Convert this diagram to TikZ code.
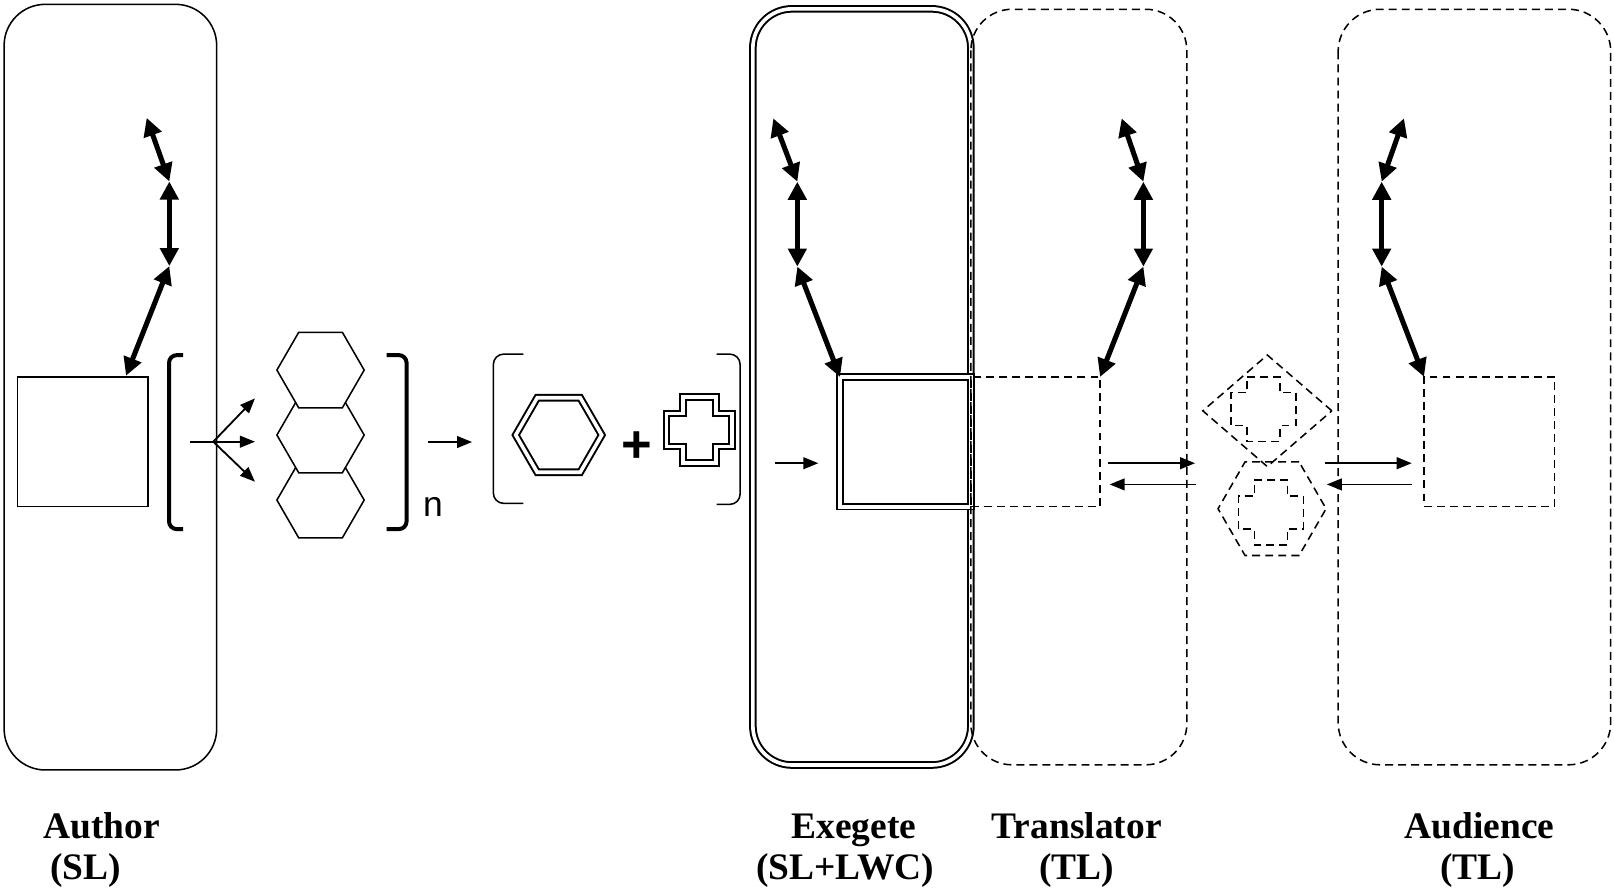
\documentclass[tikz,border=0pt]{standalone}
\usepackage{fontspec}
\setmainfont{Liberation Serif}
\newfontfamily\labelsans{Liberation Sans}
\usepackage{tikz}
\usetikzlibrary{positioning,shapes.geometric,arrows.meta}

% cross outline, half size #1, half arm width #2
\newcommand{\crosspath}[2]{(-#2,-#1) -- (#2,-#1) -- (#2,-#2) -- (#1,-#2) -- (#1,#2) -- (#2,#2) -- (#2,#1) -- (-#2,#1) -- (-#2,#2) -- (-#1,#2) -- (-#1,-#2) -- (-#2,-#2) -- cycle}

\tikzset{
  rolebox/.style={line width=0.85pt,rounded corners=0.8cm},
  dashline/.style={dash pattern=on 4.4pt off 2.8pt},
  dblline/.style={double,double distance=2pt,line width=1.1pt},
  unitbox/.style={draw,line width=0.85pt,minimum width=2.54cm,minimum height=2.52cm,inner sep=0pt,outer sep=0pt},
  hexa/.style={draw,line width=0.85pt,regular polygon,regular polygon sides=6,inner sep=0pt,outer sep=0pt},
  brackline/.style={line width=2.2pt,rounded corners=0.15cm},
  linkarrow/.style={line width=2.8pt,>={Triangle[length=10pt,width=10pt]},<->},
  flowarrow/.style={line width=1pt,>={Triangle[length=8.3pt,width=6.5pt]},->},
  roletext/.style={font=\fontsize{20.7pt}{24pt}\selectfont\bfseries,inner sep=0pt,anchor=base}
}

\begin{document}
\begin{tikzpicture}[x=0.02cm,y=-0.02cm]
  \useasboundingbox (0,0) rectangle (1568,867);
  % --- Author (SL) ---
  \draw[rolebox] (4,4.2) rectangle (210.5,748);
  \node[unitbox] (authsq) at (80.5,429) {};
  \coordinate (a1) at (142.5,114.5);
  \coordinate (a2) at (164.5,176.3);
  \coordinate (a3) at (164.5,258.5);
  \coordinate (a4) at (122.4,365);
  \draw[linkarrow] (a1) -- (a2);
  \draw[linkarrow] (a2) -- (a3);
  \draw[linkarrow] (a3) -- (a4);
  % --- repeated group [ ... ]n ---
  \draw[brackline] (178,345) -- (164.2,345) -- (164.2,514) -- (178,514);
  \coordinate (fanin) at (184.6,429.1);
  \coordinate (fansplit) at (207.2,429.1);
  \coordinate (fanup) at (247.7,387);
  \coordinate (fanmid) at (247.7,429.1);
  \coordinate (fandown) at (247.7,468);
  \draw[line width=1pt] (fanin) -- (fansplit);
  \foreach \t in {fanup,fanmid,fandown}
    \draw[flowarrow] (fansplit) -- (\t);
  % stacked from the bottom, upper ones hide the lower ones
  \foreach \i/\y in {3/485.8,2/422.6,1/359.5}
    \node[hexa,fill=white,minimum size=1.696cm] (hex\i) at (311.4,\y) {};
  \draw[brackline] (375.7,345) -- (395,345) -- (395,514) -- (375.7,514);
  \node[font=\labelsans\fontsize{19.6pt}{22pt}\selectfont,inner sep=0pt,anchor=base west] (rep) at (410.7,502) {n};
  \coordinate (grpout) at (415.8,429.4);
  \coordinate (grpin) at (458.6,429.4);
  \draw[flowarrow] (grpout) -- (grpin);
  % --- [ hexagon + cross ] ---
  \draw[line width=0.85pt,rounded corners=0.2cm] (508.4,344) -- (479.3,344) -- (479.3,489) -- (508.4,489);
  \draw[line width=0.85pt,rounded corners=0.2cm] (696.3,344) -- (719,344) -- (719,490) -- (696.3,490);
  \node[hexa,dblline,minimum size=1.672cm] (meanhex) at (542.8,422.6) {};
  \node[font=\labelsans\bfseries\fontsize{29pt}{30pt}\selectfont,inner sep=0pt,anchor=base] (plus) at (618.9,449.6) {+};
  \draw[dblline,shift={(679.4,417.8)}] \crosspath{32}{16};
  \coordinate (exin0) at (753,450);
  \coordinate (exin1) at (795,450);
  \draw[flowarrow] (exin0) -- (exin1);
  % --- Exegete (SL+LWC) ---
  \draw[dblline,rounded corners=0.76cm] (731.4,8.6) rectangle (943.2,743.2);
  \node[unitbox,dblline] (exgsq) at (879.6,429.25) {};
  \coordinate (e1) at (751.3,115);
  \coordinate (e2) at (774.6,176.5);
  \coordinate (e3) at (774.6,259);
  \draw[linkarrow] (e1) -- (e2);
  \draw[linkarrow] (e2) -- (e3);
  \draw[linkarrow] (e3) -- (exgsq.north west);
  % --- Translator (TL) ---
  \draw[rolebox,dashline] (943.2,9) rectangle (1153,743);
  \node[unitbox,dashline,minimum width=2.51cm] (trnsq) at (1005.95,429.2) {};
  \coordinate (t1) at (1089.7,115);
  \coordinate (t2) at (1110.8,176.5);
  \coordinate (t3) at (1110.8,259);
  \draw[linkarrow] (t1) -- (t2);
  \draw[linkarrow] (t2) -- (t3);
  \draw[linkarrow] (t3) -- (trnsq.north east);
  % --- dashed shapes in between ---
  \node[draw,diamond,dashline,line width=0.85pt,minimum width=2.508cm,minimum height=2.168cm,inner sep=0pt,outer sep=0pt] (gloss) at (1231.2,399.1) {};
  \draw[dashline,line width=0.85pt,shift={(1227.4,397.5)}] \crosspath{31.5}{16};
  \node[hexa,dashline,minimum size=2.1cm] (target) at (1235.8,494.2) {};
  \draw[dashline,line width=0.85pt,shift={(1234.6,497.9)}] \crosspath{31.6}{16};
  \coordinate (tr1) at (1076.5,450);
  \coordinate (tr2) at (1161,450);
  \coordinate (tr3) at (1162,470.6);
  \coordinate (tr4) at (1078,470.6);
  \draw[flowarrow] (tr1) -- (tr2);
  \draw[flowarrow] (tr3) -- (tr4);
  \coordinate (ad1) at (1287,450);
  \coordinate (ad2) at (1371.5,450);
  \coordinate (ad3) at (1371.5,470.6);
  \coordinate (ad4) at (1289,470.6);
  \draw[flowarrow] (ad1) -- (ad2);
  \draw[flowarrow] (ad3) -- (ad4);
  % --- Audience (TL) ---
  \draw[rolebox,dashline,rounded corners=0.82cm] (1300,9) rectangle (1564.8,743);
  \node[unitbox,dashline] (audsq) at (1446.9,429) {};
  \coordinate (d1) at (1364,115);
  \coordinate (d2) at (1342.3,176.5);
  \coordinate (d3) at (1342.3,259);
  \draw[linkarrow] (d1) -- (d2);
  \draw[linkarrow] (d2) -- (d3);
  \draw[linkarrow] (d3) -- (audsq.north west);
  % --- labels ---
  \node[roletext] (authname) at (98.7,815) {Author};
  \node[roletext] (authlang) at (83,854) {(SL)};
  \node[roletext] (exgname) at (829.5,815) {Exegete};
  \node[roletext] (exglang) at (821,854) {(SL+LWC)};
  \node[roletext] (trnname) at (1046,815) {Translator};
  \node[roletext] (trnlang) at (1046,854) {(TL)};
  \node[roletext] (audname) at (1437.5,815) {Audience};
  \node[roletext] (audlang) at (1435.5,854) {(TL)};
\end{tikzpicture}
\end{document}
